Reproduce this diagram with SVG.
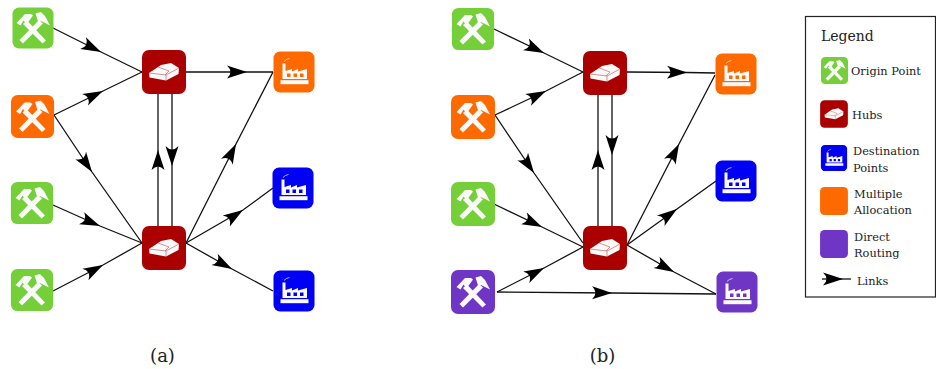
<svg xmlns="http://www.w3.org/2000/svg" width="936" height="369" viewBox="0 0 936 369">
<style>
text{font-family:"DejaVu Serif","Liberation Serif",serif;fill:#222}
.lg{font-size:11.4px}
.cap{font-size:18px;text-anchor:middle}
.e{fill:none;stroke:#111;stroke-width:1.3;marker-mid:url(#ah)}
.g{fill:#75cf38}.o{fill:#ff6a00}.b{fill:#0000f5}.r{fill:#ab0000}.p{fill:#6f36c6}
.w{fill:#fafafa}
.l{fill:none;stroke:#c84a4a;stroke-width:.6}
</style>
<defs>
<marker id="ah" markerUnits="userSpaceOnUse" markerWidth="24" markerHeight="18" refX="20" refY="9" orient="auto"><path d="M0 2.500L20 9L0 15.500Q7 9 0 2.500Z" fill="#000"/></marker>
<rect id="s41" x="-20.500" y="-20.500" width="41" height="41" rx="6.500"/>
<rect id="s44" x="-22" y="-22" width="44" height="44" rx="7"/>
<g id="hammer" class="w"><path d="M-13.500 12L6 -8L10 -4.500L-10 15.500Z"/><path d="M13 12.500L-6 -7.500L-10 -4L9.500 15.500Z"/><path d="M-16.500 -5L-8 -14L-2 -14L0 -12.500L-6.500 -3.500L-9.500 -7.500L-12.500 -2.500Z"/><path d="M2.500 -14.500L8 -16L12 -12L17 -2.500L8 -7L5.500 -5Z"/></g>
<g id="factory" class="w"><path fill-rule="evenodd" d="M-11.500 -8.500H-8.500V-1L-2 -3V-.5L4 -3V-.5L13 -3V7H-11.500ZM-7 1.500V5H-3.500V1.500ZM-.5 1.500V5H3V1.500ZM6 1.500V5H9.500V1.500Z"/><rect x="-13.500" y="8.200" width="28" height="4"/><path d="M-10 -10.500Q-8 -13 -4.500 -13.500" fill="none" stroke="#fafafa" stroke-width=".7"/></g>
<g id="brick"><path class="w" d="M-15 1L-3 -7L7 -9L15 -4L14.500 2L2 8.500L-14.500 5.500Z"/><path class="l" d="M-15 1L2 3L15 -4M2 3V8.500M-6 -5L5 -1L1 3"/></g>
</defs>

<g id="connectors">
<path class="e" d="M53 28L101 52L142 72"/>
<path class="e" d="M54 115L103 91L142 72"/>
<path class="e" d="M54 115L92 172L142 243"/>
<path class="e" d="M53 205L100 226L142 243"/>
<path class="e" d="M53 291L103 265L142 243"/>
<path class="e" d="M186 72L247 72L273 72"/>
<path class="e" d="M158 226L158 150L158 94"/>
<path class="e" d="M172 94L172 166L172 226"/>
<path class="e" d="M186 243L236 144L273 72"/>
<path class="e" d="M186 243L243 210L273 188"/>
<path class="e" d="M186 243L232 269L273 291"/>
<path class="e" d="M494 29L544 53L583 72"/>
<path class="e" d="M495 115L546 91L583 72"/>
<path class="e" d="M495 115L534 173L583 243"/>
<path class="e" d="M494 204L542 227L583 247"/>
<path class="e" d="M497 292L544 268L583 247"/>
<path class="e" d="M497 292L612 293L716 294"/>
<path class="e" d="M627 72L687 72.500L715 73"/>
<path class="e" d="M598 226L598 150L598 94"/>
<path class="e" d="M612 94L612 155L612 226"/>
<path class="e" d="M627 245L679 144L715 75"/>
<path class="e" d="M627 245L677 209L716 181"/>
<path class="e" d="M627 245L674 272L716 294"/>
</g>

<g id="a-origin-1" transform="translate(33,28)"><use href="#s41" class="g"/><use href="#hammer"/></g>
<g id="a-origin-2" transform="translate(32.500,116.500)"><use href="#s44" class="o" transform="scale(.98)"/><use href="#hammer"/></g>
<g id="a-origin-3" transform="translate(32,203)"><use href="#s41" class="g" transform="scale(1.03)"/><use href="#hammer"/></g>
<g id="a-origin-4" transform="translate(32,290)"><use href="#s41" class="g" transform="scale(1.03)"/><use href="#hammer"/></g>
<g id="a-hub-1" transform="translate(164,72)"><use href="#s44" class="r"/><use href="#brick"/></g>
<g id="a-hub-2" transform="translate(164,248)"><use href="#s44" class="r"/><use href="#brick"/></g>
<g id="a-dest-1" transform="translate(294,72)"><use href="#s41" class="o"/><use href="#factory"/></g>
<g id="a-dest-2" transform="translate(293,188)"><use href="#s41" class="b"/><use href="#factory"/></g>
<g id="a-dest-3" transform="translate(294,291)"><use href="#s41" class="b"/><use href="#factory"/></g>

<g id="b-origin-1" transform="translate(473,29)"><use href="#s41" class="g" transform="scale(1.03)"/><use href="#hammer"/></g>
<g id="b-origin-2" transform="translate(473,117)"><use href="#s44" class="o"/><use href="#hammer"/></g>
<g id="b-origin-3" transform="translate(473,204)"><use href="#s44" class="g"/><use href="#hammer"/></g>
<g id="b-origin-4" transform="translate(473,292)"><use href="#s44" class="p"/><use href="#hammer"/></g>
<g id="b-hub-1" transform="translate(605,73)"><use href="#s44" class="r"/><use href="#brick"/></g>
<g id="b-hub-2" transform="translate(605,248)"><use href="#s44" class="r"/><use href="#brick"/></g>
<g id="b-dest-1" transform="translate(736,74)"><use href="#s41" class="o"/><use href="#factory"/></g>
<g id="b-dest-2" transform="translate(736,181)"><use href="#s41" class="b"/><use href="#factory"/></g>
<g id="b-dest-3" transform="translate(737,292)"><use href="#s41" class="p"/><use href="#factory"/></g>

<text class="cap" x="162.500" y="362">(a)</text>
<text class="cap" x="602.500" y="362">(b)</text>

<g id="legend">
<rect x="805.500" y="16.500" width="130" height="280.500" fill="none" stroke="#222" stroke-width="1.200"/>
<text x="821" y="41" font-size="14">Legend</text>
<g transform="translate(834.500,70.500) scale(.66)"><use href="#s41" class="g"/><use href="#hammer"/></g>
<g transform="translate(834,114) scale(.63)"><use href="#s44" class="r"/><use href="#brick"/></g>
<g transform="translate(834,158) scale(.64)"><use href="#s41" class="b"/><use href="#factory"/></g>
<use href="#s41" class="o" transform="translate(834,201) scale(.68)"/>
<use href="#s41" class="p" transform="translate(834,244) scale(.68)"/>
<path class="e" d="M822 279L843 279L851 279"/>
<text class="lg" x="851" y="75">Origin Point</text>
<text class="lg" x="852" y="119">Hubs</text>
<text class="lg" x="853" y="155">Destination</text>
<text class="lg" x="853" y="172">Points</text>
<text class="lg" x="854" y="198">Multiple</text>
<text class="lg" x="854" y="214">Allocation</text>
<text class="lg" x="854" y="241">Direct</text>
<text class="lg" x="854" y="257">Routing</text>
<text class="lg" x="857" y="285">Links</text>
</g>
</svg>
